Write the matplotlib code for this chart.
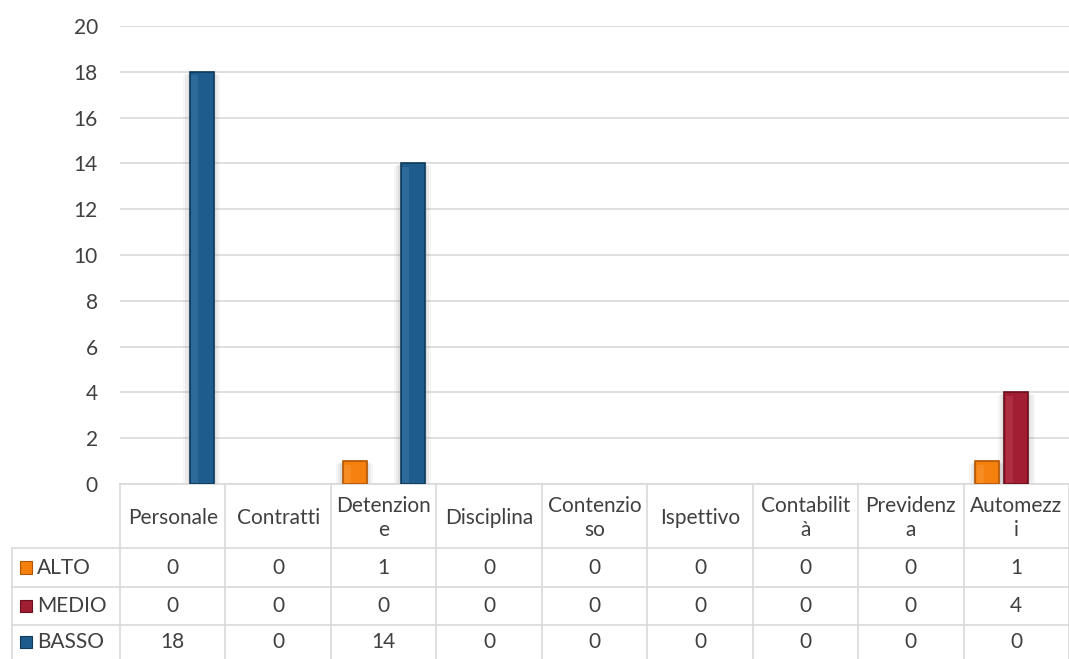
import numpy as np
import matplotlib.pyplot as plt
from matplotlib.patches import Rectangle

plt.rcParams['font.family'] = ['Lato', 'DejaVu Sans']

# Dati del grafico
categorie = ["Personale", "Contratti", "Detenzione", "Disciplina", "Contenzioso",
             "Ispettivo", "Contabilità", "Previdenza", "Automezzi"]
etichette = ["Personale", "Contratti", "Detenzion\ne", "Disciplina", "Contenzio\nso",
             "Ispettivo", "Contabilit\nà", "Previdenz\na", "Automezz\ni"]
serie = ["ALTO", "MEDIO", "BASSO"]
alto = [0, 0, 1, 0, 0, 0, 0, 0, 1]
medio = [0, 0, 0, 0, 0, 0, 0, 0, 4]
basso = [18, 0, 14, 0, 0, 0, 0, 0, 0]
valori = [alto, medio, basso]

colori = ["#F4800E", "#A21E33", "#1D5C8C"]
bordi = ["#B25500", "#6A0F1E", "#0E3A5C"]
luci = ["#FFA54A", "#C94A5C", "#4F86B3"]

W, H = 1069, 659
fig = plt.figure(figsize=(W / 100, H / 100), dpi=100)
ax = fig.add_axes([120 / W, (H - 484) / H, (W - 120) / W, (484 - 26) / H])

n = len(categorie)
x = np.arange(n)
larg = 0.228
passo = 0.275
fs = 15

ax.set_xlim(-0.5, n - 0.5)
ax.set_ylim(0, 20)
ax.set_yticks(range(0, 21, 2))
ax.grid(axis='y', color='#D9D9D9', linewidth=1.2)
ax.set_axisbelow(True)
for s in ['top', 'right', 'left']:
    ax.spines[s].set_visible(False)
ax.spines['bottom'].set_color('#D9D9D9')
ax.spines['bottom'].set_linewidth(1.2)
ax.tick_params(axis='y', length=0, pad=16, labelsize=fs, labelcolor='#404040')
ax.set_xticks([])

# Colonne con ombra e bordo in rilievo
for i, vals in enumerate(valori):
    pos = x + (i - 1) * passo
    for xi, v in zip(pos, vals):
        if v == 0:
            continue
        for k, a in [(0.06, 0.07), (0.04, 0.09), (0.02, 0.12)]:
            ax.add_patch(Rectangle((xi - larg / 2 - k, -0.2), larg + 2 * k, v + 0.2 - k * 2,
                                   facecolor='#808080', alpha=a, edgecolor='none', zorder=2))
        ax.bar(xi, v, width=larg, color=colori[i], edgecolor=bordi[i], linewidth=1.2, zorder=3)
        ax.add_patch(Rectangle((xi - larg / 2 + 0.015, 0.05), larg * 0.28, v - 0.2,
                               facecolor=luci[i], alpha=0.35, edgecolor='none', zorder=4))

# Tabella dati sotto il grafico
tr = ax.get_xaxis_transform()
def ya(ypx):
    return (484 - ypx) / (484 - 26)

sx = -0.5 - (120 - 11.7) / 105.4
righe = [548, 587, 625]
grigio = '#D9D9D9'
for b in np.arange(-0.5, n - 0.4, 1.0):
    ax.plot([b, b], [ya(484), ya(H + 5)], transform=tr, color=grigio, lw=1.2, clip_on=False)
ax.plot([sx, sx], [ya(548), ya(H + 5)], transform=tr, color=grigio, lw=1.2, clip_on=False)
for r in righe:
    ax.plot([sx, n - 0.5], [ya(r), ya(r)], transform=tr, color=grigio, lw=1.2, clip_on=False)

for xi, lab in zip(x, etichette):
    ax.text(xi, ya(518), lab, transform=tr, ha='center', va='center', fontsize=fs,
            color='#404040', linespacing=1.3, clip_on=False)

centri = [567.5, 606, 642]
for i, vals in enumerate(valori):
    yc = ya(centri[i])
    ax.add_patch(Rectangle((sx + 8.5 / 105.4, yc - 0.0135), 12 / 105.4, 0.027, transform=tr,
                           facecolor=colori[i], edgecolor=bordi[i], lw=0.8, clip_on=False))
    ax.text(sx + 25 / 105.4, yc, serie[i], transform=tr, ha='left', va='center',
            fontsize=fs, color='#404040', clip_on=False)
    for xi, v in zip(x, vals):
        ax.text(xi, yc, str(v), transform=tr, ha='center', va='center', fontsize=fs,
                color='#404040', clip_on=False)

fig.savefig('out.png', dpi=100)
